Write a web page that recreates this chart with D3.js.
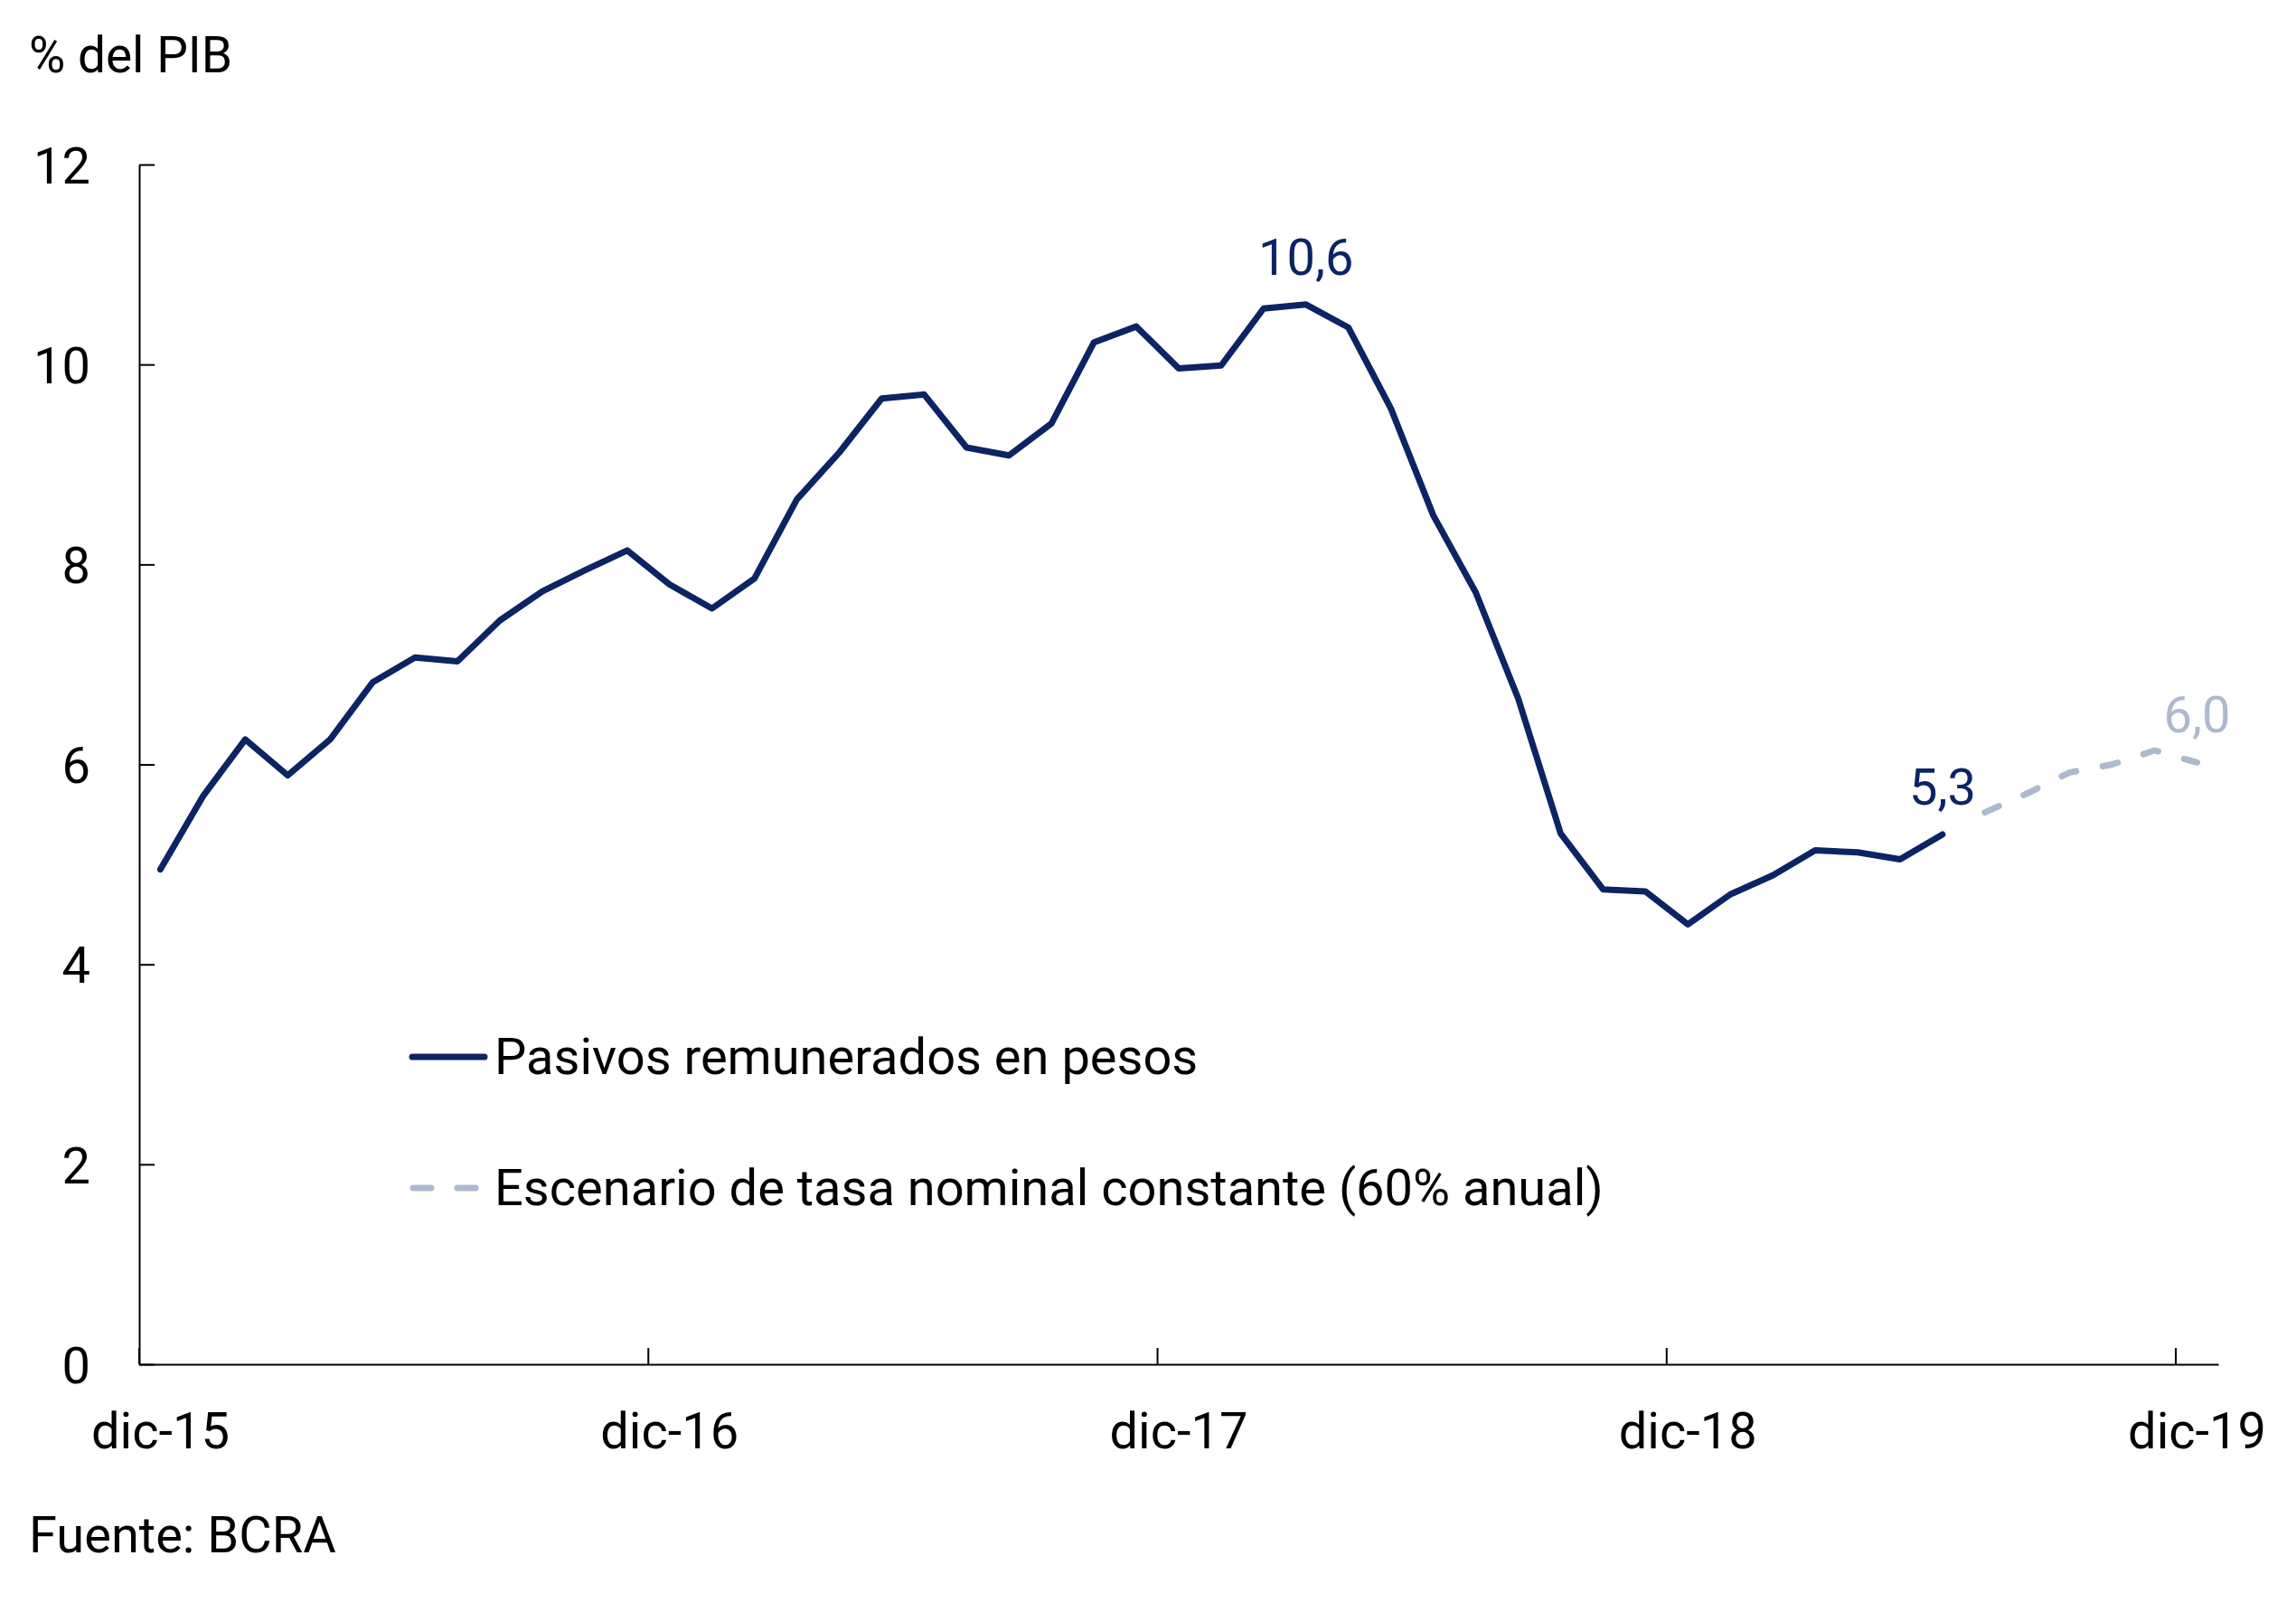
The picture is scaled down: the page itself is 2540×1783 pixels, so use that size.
<!DOCTYPE html>
<html>
<head>
<meta charset="utf-8">
<script src="https://cdn.jsdelivr.net/npm/d3@7/dist/d3.min.js"></script>
<style>
  html, body { margin: 0; padding: 0; background: #ffffff; }
  svg { display: block; }
  text { font-family: Roboto, "Noto Sans", sans-serif; }
</style>
</head>
<body>
<svg id="chart" width="2540" height="1783"></svg>
<script>
// ---- Data ----
const months = [
  "dic-15","ene-16","feb-16","mar-16","abr-16","may-16","jun-16","jul-16","ago-16","sep-16","oct-16","nov-16",
  "dic-16","ene-17","feb-17","mar-17","abr-17","may-17","jun-17","jul-17","ago-17","sep-17","oct-17","nov-17",
  "dic-17","ene-18","feb-18","mar-18","abr-18","may-18","jun-18","jul-18","ago-18","sep-18","oct-18","nov-18",
  "dic-18","ene-19","feb-19","mar-19","abr-19","may-19","jun-19","jul-19","ago-19","sep-19","oct-19","nov-19",
  "dic-19"
];
const pasivos = [
  4.95, 5.68, 6.25, 5.89, 6.25, 6.82, 7.07, 7.03, 7.44, 7.73, 7.94, 8.14,
  7.80, 7.56, 7.86, 8.65, 9.12, 9.66, 9.70, 9.17, 9.09, 9.41, 10.22, 10.38,
  9.96, 9.99, 10.56, 10.60, 10.37, 9.56, 8.49, 7.72, 6.66, 5.31, 4.75, 4.73,
  4.40, 4.70, 4.89, 5.14, 5.12, 5.05, 5.30
];
const escenarioMonths = ["jul-19","ago-19","sep-19","oct-19","nov-19","dic-19"];
const escenario = [5.52, 5.71, 5.92, 6.00, 6.14, 6.02];
const xTickLabels = ["dic-15","dic-16","dic-17","dic-18","dic-19"];
const yTicks = [0, 2, 4, 6, 8, 10, 12];
const dataLabels = [
  { month: "mar-18", value: 10.60, text: "10,6", series: "pasivos" },
  { month: "jun-19", value: 5.30, text: "5,3", series: "pasivos" },
  { month: "dic-19", value: 6.02, text: "6,0", series: "escenario" }
];
const legendItems = [
  { name: "Pasivos remunerados en pesos", series: "pasivos" },
  { name: "Escenario de tasa nominal constante (60% anual)", series: "escenario" }
];

// ---- Styles ----
const NAVY = "#0b2463";
const LIGHT = "#adb9cc";
const colors = { pasivos: NAVY, escenario: LIGHT };

const svg = d3.select("#chart");
svg.append("rect").attr("width", 2540).attr("height", 1783).attr("fill", "#fff");

const plotLeft = 154, plotRight = 2454, plotTop = 182, plotBottom = 1509;

const x = d3.scaleBand().domain(months).range([plotLeft, plotRight]).padding(0);
const xc = m => x(m) + x.bandwidth() / 2;
const y = d3.scaleLinear().domain([0, 12]).range([plotBottom, plotTop]);

// ---- Y axis ----
const yAxis = d3.axisLeft(y).tickValues(yTicks).tickSize(-17).tickSizeOuter(0).tickPadding(54)
  .tickFormat(d3.format("d"));
const gy = svg.append("g").attr("transform", `translate(${plotLeft},0)`).call(yAxis);
gy.selectAll("path, line").attr("stroke", "#000").attr("stroke-width", 2);
gy.selectAll("text").attr("font-size", 56).attr("fill", "#000")
  .attr("font-family", "Roboto").attr("dy", "0.36em");

// ---- X axis (ticks at year boundaries, labels centered on category) ----
const xb = d3.axisBottom(x).tickValues(xTickLabels).tickSize(-18).tickSizeOuter(0).tickFormat("");
const gx = svg.append("g").attr("transform", `translate(0,${plotBottom})`).call(xb);
gx.selectAll(".tick").attr("transform", d => `translate(${x(d)},0)`);
gx.selectAll("path, line").attr("stroke", "#000").attr("stroke-width", 2);
svg.append("g").selectAll("text").data(xTickLabels).join("text")
  .attr("x", d => xc(d)).attr("y", 1602)
  .attr("text-anchor", "middle").attr("font-size", 56).attr("fill", "#000")
  .text(d => d);

// ---- Lines ----
const line = d3.line().x(d => xc(d.m)).y(d => y(d.v));
svg.append("path")
  .datum(pasivos.map((v, i) => ({ m: months[i], v })))
  .attr("d", line).attr("fill", "none").attr("stroke", NAVY)
  .attr("stroke-width", 7).attr("stroke-linejoin", "round").attr("stroke-linecap", "round");
svg.append("path")
  .datum(escenario.map((v, i) => ({ m: escenarioMonths[i], v })))
  .attr("d", line).attr("fill", "none").attr("stroke", LIGHT)
  .attr("stroke-width", 7).attr("stroke-linejoin", "round").attr("stroke-linecap", "round")
  .attr("stroke-dasharray", "17,30");

// ---- Data labels ----
svg.append("g").selectAll("text").data(dataLabels).join("text")
  .attr("x", d => xc(d.month)).attr("y", d => y(d.value) - 33)
  .attr("text-anchor", "middle").attr("font-size", 56)
  .attr("fill", d => colors[d.series]).text(d => d.text);

// ---- Legend ----
const lg = svg.append("g");
const legY = [1169, 1314];
legendItems.forEach((it, i) => {
  const ly = legY[i];
  if (it.series === "pasivos") {
    lg.append("line").attr("x1", 456).attr("x2", 536).attr("y1", ly).attr("y2", ly)
      .attr("stroke", NAVY).attr("stroke-width", 7).attr("stroke-linecap", "round");
  } else {
    lg.append("line").attr("x1", 457).attr("x2", 530).attr("y1", ly).attr("y2", ly)
      .attr("stroke", LIGHT).attr("stroke-width", 7).attr("stroke-linecap", "round")
      .attr("stroke-dasharray", "20,29");
  }
  lg.append("text").attr("x", 547).attr("y", ly + 19)
    .attr("font-size", 56).attr("fill", "#000").text(it.name);
});

// ---- Titles ----
svg.append("text").attr("x", 32).attr("y", 80).attr("font-size", 55).attr("fill", "#000").text("% del PIB");
svg.append("text").attr("x", 32).attr("y", 1717).attr("font-size", 56).attr("fill", "#000").text("Fuente: BCRA");
</script>
</body>
</html>
